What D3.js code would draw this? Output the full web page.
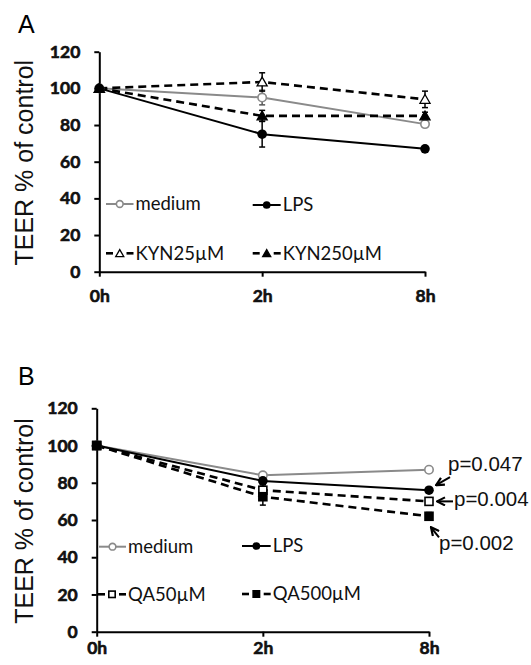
<!DOCTYPE html>
<html>
<head>
<meta charset="utf-8">
<script src="https://cdn.jsdelivr.net/npm/d3@7"></script>
<style>
  body { margin: 0; background: #fff; }
  svg { display: block; }
  .axis path, .axis line { stroke: #000; stroke-width: 2; }
  .axis text { font-family: Lato, "Open Sans", sans-serif; font-weight: bold; font-size: 17.5px; fill: #111; stroke: #111; stroke-width: 0.6px; }
</style>
</head>
<body>
<svg id="chart" width="531" height="665"></svg>
<script>
// time points and y ticks
var timepoints = ["0h", "2h", "8h"];
var yTicks = [0, 20, 40, 60, 80, 100, 120];

// panel A values (% of control)
var mediumA = [100, 95, 80.5];
var lpsA = [100, 75, 67];
var kyn25 = [100, 103.5, 94];
var kyn250 = [100, 85, 85];
var mediumAErr = [0, 4, 1];
var lpsAErr = [0, 7, 1.5];
var kyn25Err = [0, 5, 4.5];
var kyn250Err = [0, 3, 2];

// panel B values (% of control)
var mediumB = [100, 84, 87];
var lpsB = [100, 81, 76];
var qa50 = [100, 76, 70];
var qa500 = [100, 72.5, 62];
var mediumBErr = [0, 1, 1];
var lpsBErr = [0, 2, 1];
var qa50Err = [0, 3, 2];
var qa500Err = [0, 4.5, 2];

var pLabels = ["p=0.047", "p=0.004", "p=0.002"];

var GRAY = "#8a8a8a";
var svg = d3.select("#chart");

function drawPanel(cfg) {
    var g = svg.append("g");

    var x = d3.scalePoint().domain(timepoints).range([cfg.x0, cfg.x1]);
    var y = d3.scaleLinear().domain([0, 120]).range([cfg.y0, cfg.y1]);

    // panel letter
    g.append("text")
        .attr("x", 18).attr("y", cfg.letterY)
        .style("font-family", "Liberation Sans, Arial, sans-serif")
        .style("font-size", "25px")
        .text(cfg.letter);

    // y title
    g.append("text")
        .attr("transform", "translate(33," + ((cfg.y0 + cfg.y1) / 2 + 1) + ") rotate(-90)")
        .attr("text-anchor", "middle")
        .style("font-family", "Liberation Sans, Arial, sans-serif")
        .style("font-size", "25px")
        .style("fill", "#111")
        .text("TEER % of control");

    // axes
    g.append("g")
        .attr("class", "axis")
        .attr("transform", "translate(" + cfg.x0 + ",0)")
        .call(d3.axisLeft(y).tickValues(yTicks).tickSize(5).tickSizeOuter(0).tickPadding(14));

    g.append("g")
        .attr("class", "axis")
        .attr("transform", "translate(0," + cfg.y0 + ")")
        .call(d3.axisBottom(x).tickSize(5).tickSizeOuter(0).tickPadding(cfg.xPad));

    var line = d3.line()
        .x(function (d, i) { return x(timepoints[i]); })
        .y(function (d) { return y(d); });

    // error bars
    cfg.series.forEach(function (s) {
        s.values.forEach(function (v, i) {
            var e = s.err[i];
            if (!e) return;
            var cx = x(timepoints[i]);
            var eg = g.append("g").attr("stroke", s.barColor || "#000").attr("stroke-width", 1.5);
            eg.append("line").attr("x1", cx).attr("x2", cx).attr("y1", y(v - e)).attr("y2", y(v + e));
            eg.append("line").attr("x1", cx - 3).attr("x2", cx + 3).attr("y1", y(v - e)).attr("y2", y(v - e));
            eg.append("line").attr("x1", cx - 3).attr("x2", cx + 3).attr("y1", y(v + e)).attr("y2", y(v + e));
        });
    });

    // lines
    cfg.series.forEach(function (s) {
        g.append("path")
            .datum(s.values)
            .attr("fill", "none")
            .attr("stroke", s.color)
            .attr("stroke-width", s.dashed ? 2.6 : 2)
            .attr("stroke-dasharray", s.dashed ? "8,5" : null)
            .attr("d", line);
    });

    // markers
    cfg.series.forEach(function (s) {
        s.values.forEach(function (v, i) {
            drawMarker(g, s.marker, x(timepoints[i]), y(v), s.color, 1);
        });
    });

    // legend
    cfg.legend.forEach(function (L) {
        var s = cfg.series[L.idx];
        var lg = g.append("g");
        var mx = (L.lx0 + L.lx1) / 2;
        if (s.dashed) {
            lg.append("line").attr("x1", L.lx0).attr("x2", L.lx0 + 7).attr("y1", L.ly).attr("y2", L.ly)
                .attr("stroke", s.color).attr("stroke-width", 2.6);
            lg.append("line").attr("x1", L.lx1 - 7).attr("x2", L.lx1).attr("y1", L.ly).attr("y2", L.ly)
                .attr("stroke", s.color).attr("stroke-width", 2.6);
        } else {
            lg.append("line").attr("x1", L.lx0).attr("x2", L.lx1).attr("y1", L.ly).attr("y2", L.ly)
                .attr("stroke", s.color).attr("stroke-width", 2);
        }
        drawMarker(lg, s.marker, mx, L.ly, s.color, 0.8);
        lg.append("text")
            .attr("x", L.lx1 + 2).attr("y", L.ly)
            .attr("dy", "0.35em")
            .style("font-family", "Lato, 'Open Sans', sans-serif")
            .style("font-size", "18.5px")
            .style("fill", "#111")
            .text(s.name);
    });

    return {x: x, y: y, g: g};
}

function drawMarker(g, type, cx, cy, color, k) {
    if (type === "openCircle") {
        g.append("circle").attr("cx", cx).attr("cy", cy).attr("r", 4.2 * k)
            .attr("fill", "#fff").attr("stroke", color).attr("stroke-width", 1.6);
    } else if (type === "circle") {
        g.append("circle").attr("cx", cx).attr("cy", cy).attr("r", 4.8 * k).attr("fill", color);
    } else if (type === "openTriangle" || type === "triangle") {
        g.append("path")
            .attr("d", d3.symbol().type(d3.symbolTriangle).size(44 * k * k))
            .attr("transform", "translate(" + cx + "," + (cy + 1) + ")")
            .attr("fill", type === "triangle" ? color : "#fff")
            .attr("stroke", color).attr("stroke-width", 1.3);
    } else if (type === "openSquare" || type === "square") {
        var h = 4 * k;
        g.append("rect").attr("x", cx - h).attr("y", cy - h).attr("width", 2 * h).attr("height", 2 * h)
            .attr("fill", type === "square" ? color : "#fff")
            .attr("stroke", color).attr("stroke-width", 1.6);
    }
}

// panel A
drawPanel({
    letter: "A", letterY: 33,
    x0: 99.3, x1: 425, y0: 271.7, y1: 51.7, xPad: 13,
    series: [
        {name: "medium", values: mediumA, err: mediumAErr, color: GRAY, barColor: "#555", marker: "openCircle"},
        {name: "LPS", values: lpsA, err: lpsAErr, color: "#000", marker: "circle"},
        {name: "KYN25\u00b5M", values: kyn25, err: kyn25Err, color: "#000", dashed: true, marker: "openTriangle"},
        {name: "KYN250\u00b5M", values: kyn250, err: kyn250Err, color: "#000", dashed: true, marker: "triangle"}
    ],
    legend: [
        {idx: 0, lx0: 106, lx1: 133.5, ly: 204},
        {idx: 1, lx0: 252.7, lx1: 280.7, ly: 205},
        {idx: 2, lx0: 106, lx1: 133.5, ly: 253.3},
        {idx: 3, lx0: 252.7, lx1: 280.7, ly: 253.3}
    ]
});

// panel B
var pb = drawPanel({
    letter: "B", letterY: 385,
    x0: 96.7, x1: 429, y0: 631.7, y1: 408.3, xPad: 5,
    series: [
        {name: "medium", values: mediumB, err: mediumBErr, color: GRAY, barColor: "#555", marker: "openCircle"},
        {name: "LPS", values: lpsB, err: lpsBErr, color: "#000", marker: "circle"},
        {name: "QA50\u00b5M", values: qa50, err: qa50Err, color: "#000", dashed: true, marker: "openSquare"},
        {name: "QA500\u00b5M", values: qa500, err: qa500Err, color: "#000", dashed: true, marker: "square"}
    ],
    legend: [
        {idx: 0, lx0: 99, lx1: 126, ly: 546.7},
        {idx: 1, lx0: 242, lx1: 270.7, ly: 546},
        {idx: 2, lx0: 98, lx1: 126, ly: 594.3},
        {idx: 3, lx0: 242, lx1: 270.7, ly: 594}
    ]
});

// p-value annotations on panel B, pointing at the 8h values
var pTargets = [lpsB[2], qa50[2], qa500[2]];
var pLayout = [
    {hx: 7, hy: -5, tx: 21, ty: -13, lx: 19, ly: -26},
    {hx: 8, hy: 0, tx: 24, ty: 0, lx: 25, ly: -3},
    {hx: 2, hy: 11, tx: 10, ty: 21, lx: 10, ly: 27}
];
svg.append("defs").append("marker")
    .attr("id", "ah").attr("viewBox", "0 0 10 10")
    .attr("refX", 9).attr("refY", 5)
    .attr("markerWidth", 5).attr("markerHeight", 5)
    .attr("orient", "auto")
    .append("path").attr("d", "M1,1 L9,5 L1,9").attr("fill", "none").attr("stroke", "#000").attr("stroke-width", 2.2);

pLabels.forEach(function (lab, i) {
    var px = pb.x("8h"), py = pb.y(pTargets[i]);
    var L = pLayout[i];
    svg.append("line")
        .attr("x1", px + L.tx).attr("y1", py + L.ty)
        .attr("x2", px + L.hx).attr("y2", py + L.hy)
        .attr("stroke", "#000").attr("stroke-width", 2)
        .attr("marker-end", "url(#ah)");
    svg.append("text")
        .attr("x", px + L.lx).attr("y", py + L.ly)
        .attr("dy", "0.35em")
        .style("font-family", "Liberation Sans, Arial, sans-serif")
        .style("font-size", "20.5px")
        .style("fill", "#111")
        .text(lab);
});
</script>
</body>
</html>
